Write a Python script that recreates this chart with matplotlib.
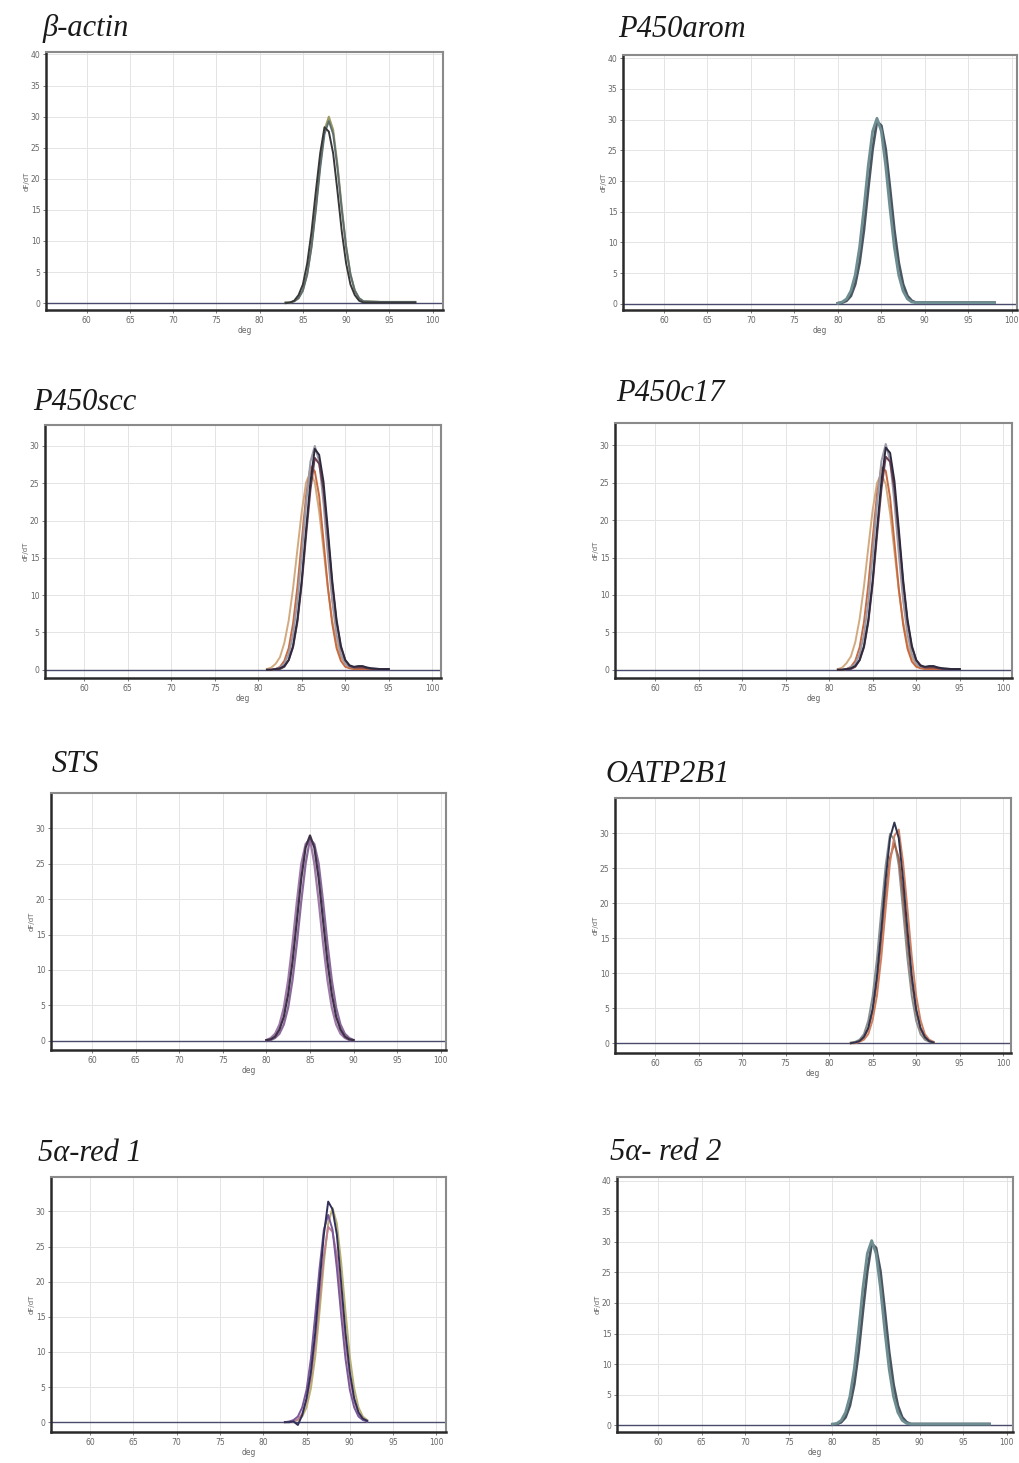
import matplotlib
matplotlib.use('Agg')
import matplotlib.pyplot as plt

# ---------------- data (dF/dT vs deg) ----------------
GENES = ['β-actin', 'P450arom', 'P450scc', 'P450c17',
         'STS', 'OATP2B1', '5α-red 1', '5α- red 2']

# beta-actin
T_ACTIN = [83.0, 83.5, 84.0, 84.5, 85.0, 85.5, 86.0, 86.5, 87.0, 87.5, 88.0,
           88.5, 89.0, 89.5, 90.0, 90.5, 91.0, 91.5, 92.0, 94.0, 96.0, 98.0]
ACTIN_A = [0.1, 0.1, 0.3, 0.8, 2.1, 4.7, 9.2, 15.4, 22.3, 27.9, 30.0,
           27.9, 22.3, 15.4, 9.2, 4.7, 2.1, 0.8, 0.3, 0.2, 0.2, 0.2]
ACTIN_B = [0.0, 0.1, 0.4, 1.3, 3.0, 6.4, 11.5, 18.0, 24.1, 28.3, 27.6,
           24.1, 18.0, 11.5, 6.4, 3.0, 1.3, 0.4, 0.1, 0.1, 0.1, 0.1]
ACTIN_C = [0.1, 0.1, 0.3, 0.8, 2.0, 4.6, 9.0, 15.0, 21.7, 27.2, 29.3,
           27.2, 21.7, 15.0, 9.0, 4.6, 2.0, 0.8, 0.3, 0.2, 0.2, 0.2]

# P450arom
T_AROM = [80.0, 80.5, 81.0, 81.5, 82.0, 82.5, 83.0, 83.5, 84.0, 84.5, 85.0,
          85.5, 86.0, 86.5, 87.0, 87.5, 88.0, 88.5, 89.0, 91.0, 94.0, 98.0]
AROM_A = [0.1, 0.3, 0.8, 2.1, 4.7, 9.2, 15.5, 22.5, 28.1, 30.2, 28.1,
          22.5, 15.5, 9.2, 4.7, 2.1, 0.8, 0.3, 0.2, 0.2, 0.2, 0.2]
AROM_B = [0.1, 0.2, 0.5, 1.3, 3.2, 6.7, 12.0, 18.8, 25.2, 29.7, 29.0,
          25.2, 18.8, 12.0, 6.7, 3.2, 1.3, 0.5, 0.2, 0.2, 0.2, 0.2]

# P450scc
T_SCC = [81.0, 81.5, 82.0, 82.5, 83.0, 83.5, 84.0, 84.5, 85.0, 85.5, 86.0,
         86.5, 87.0, 87.5, 88.0, 88.5, 89.0, 89.5, 90.0, 90.5, 91.0, 91.5,
         92.0, 92.5, 93.0, 94.0, 95.0]
SCC_TAN = [0.1, 0.3, 0.8, 1.7, 3.6, 6.6, 10.9, 16.1, 21.2, 25.1, 26.5,
           25.1, 21.2, 16.1, 10.9, 6.6, 3.6, 1.7, 0.8, 0.3, 0.1, 0.1,
           0.1, 0.1, 0.1, 0.1, 0.1]
SCC_RED = [0.0, 0.0, 0.1, 0.4, 1.2, 2.9, 6.2, 11.1, 17.3, 23.3, 27.3,
           26.6, 23.3, 17.3, 11.1, 6.2, 2.9, 1.2, 0.4, 0.2, 0.1, 0.1,
           0.1, 0.1, 0.1, 0.1, 0.1]
SCC_GRAY = [0.0, 0.0, 0.1, 0.3, 0.8, 2.1, 4.7, 9.2, 15.4, 22.3, 27.9,
            30.0, 27.9, 22.3, 15.4, 9.2, 4.7, 2.1, 0.8, 0.4, 0.3, 0.4,
            0.4, 0.3, 0.2, 0.1, 0.1]
SCC_PURPLE = [0.0, 0.0, 0.1, 0.1, 0.4, 1.3, 3.0, 6.4, 11.5, 18.0, 24.1,
              28.4, 27.6, 24.1, 18.0, 11.5, 6.4, 3.0, 1.3, 0.5, 0.3, 0.3,
              0.3, 0.2, 0.1, 0.1, 0.1]
SCC_DARK = [0.0, 0.0, 0.1, 0.2, 0.5, 1.3, 3.2, 6.7, 12.0, 18.8, 25.2,
            29.6, 28.8, 25.2, 18.8, 12.0, 6.7, 3.2, 1.3, 0.6, 0.4, 0.5,
            0.5, 0.3, 0.2, 0.1, 0.1]

# P450c17
T_C17 = [81.0, 81.5, 82.0, 82.5, 83.0, 83.5, 84.0, 84.5, 85.0, 85.5, 86.0,
         86.5, 87.0, 87.5, 88.0, 88.5, 89.0, 89.5, 90.0, 90.5, 91.0, 91.5,
         92.0, 92.5, 93.0, 94.0, 95.0]
C17_TAN = [0.1, 0.3, 0.9, 1.8, 3.7, 6.8, 11.2, 16.4, 21.4, 25.0, 26.2,
           24.8, 20.9, 15.8, 10.6, 6.4, 3.4, 1.6, 0.7, 0.3, 0.1, 0.1,
           0.1, 0.1, 0.1, 0.1, 0.1]
C17_RED = [0.0, 0.0, 0.1, 0.4, 1.2, 3.0, 6.4, 11.4, 17.6, 23.5, 27.1,
           26.6, 23.0, 17.0, 10.8, 6.0, 2.8, 1.1, 0.4, 0.2, 0.1, 0.1,
           0.1, 0.1, 0.1, 0.1, 0.1]
C17_GRAY = [0.0, 0.0, 0.1, 0.3, 0.8, 2.1, 4.7, 9.2, 15.4, 22.3, 27.9,
            30.2, 27.9, 22.3, 15.4, 9.2, 4.7, 2.1, 0.8, 0.4, 0.3, 0.4,
            0.4, 0.3, 0.2, 0.1, 0.1]
C17_PURPLE = [0.0, 0.0, 0.1, 0.1, 0.4, 1.3, 3.0, 6.4, 11.5, 18.0, 24.1,
              28.5, 27.8, 24.1, 18.0, 11.5, 6.4, 3.0, 1.3, 0.5, 0.3, 0.3,
              0.3, 0.2, 0.1, 0.1, 0.1]
C17_DARK = [0.0, 0.0, 0.1, 0.2, 0.5, 1.3, 3.2, 6.7, 12.0, 18.8, 25.2,
            29.7, 29.0, 25.2, 18.8, 12.0, 6.7, 3.2, 1.3, 0.6, 0.4, 0.5,
            0.5, 0.3, 0.2, 0.1, 0.1]

# STS
T_STS = [80.0, 80.5, 81.0, 81.5, 82.0, 82.5, 83.0, 83.5, 84.0, 84.5, 85.0,
         85.5, 86.0, 86.5, 87.0, 87.5, 88.0, 88.5, 89.0, 89.5, 90.0]
STS_A = [0.1, 0.2, 0.6, 1.6, 3.4, 6.6, 11.2, 17.0, 22.9, 27.3, 29.0,
         27.3, 22.9, 17.0, 11.2, 6.6, 3.4, 1.6, 0.6, 0.2, 0.1]
STS_B = [0.1, 0.1, 0.4, 1.0, 2.3, 4.7, 8.6, 13.8, 19.7, 25.0, 28.5,
         27.8, 25.0, 19.7, 13.8, 8.6, 4.7, 2.3, 1.0, 0.4, 0.1]
STS_C = [0.1, 0.4, 1.0, 2.3, 4.7, 8.6, 13.8, 19.7, 25.0, 27.8, 28.5,
         25.0, 19.7, 13.8, 8.6, 4.7, 2.3, 1.0, 0.4, 0.1, 0.1]

# OATP2B1
T_OATP = [82.5, 83.0, 83.5, 84.0, 84.5, 85.0, 85.5, 86.0, 86.5, 87.0,
          87.5, 88.0, 88.5, 89.0, 89.5, 90.0, 90.5, 91.0, 91.5, 92.0]
OATP_NAVY = [0.0, 0.1, 0.3, 0.9, 2.2, 4.9, 9.6, 16.2, 23.4, 29.3,
             31.5, 29.3, 23.4, 16.2, 9.6, 4.9, 2.2, 0.9, 0.3, 0.1]
OATP_GRAY = [0.1, 0.2, 0.5, 1.3, 3.2, 6.7, 12.1, 18.9, 25.4, 29.9,
             29.0, 25.4, 18.9, 12.1, 6.7, 3.2, 1.3, 0.5, 0.2, 0.1]
OATP_RED = [0.0, 0.0, 0.2, 0.5, 1.3, 3.3, 6.8, 12.3, 19.2, 25.8,
            29.6, 30.5, 25.8, 19.2, 12.3, 6.8, 3.3, 1.3, 0.5, 0.2]
OATP_BROWN = [0.0, 0.1, 0.3, 0.8, 2.0, 4.5, 8.7, 14.6, 21.2, 26.5,
              28.5, 26.5, 21.2, 14.6, 8.7, 4.5, 2.0, 0.8, 0.3, 0.1]

# 5a-reductase 1
T_RED1 = [82.5, 83.0, 83.5, 84.0, 84.5, 85.0, 85.5, 86.0, 86.5, 87.0,
          87.5, 88.0, 88.5, 89.0, 89.5, 90.0, 90.5, 91.0, 91.5, 92.0]
RED1_NAVY = [0.0, 0.0, 0.1, -0.4, 1.0, 3.4, 7.1, 12.7, 19.8, 26.7,
             31.4, 30.3, 26.7, 19.8, 12.7, 7.1, 3.4, 1.4, 0.5, 0.2]
RED1_PURPLE = [0.0, 0.1, 0.3, 0.8, 2.1, 4.6, 9.0, 15.2, 21.9, 27.4,
               29.5, 27.4, 21.9, 15.2, 9.0, 4.6, 2.1, 0.8, 0.3, 0.1]
RED1_OLIVE = [0.0, 0.0, 0.1, 0.3, 0.8, 2.1, 4.8, 9.3, 15.7, 22.7,
              28.3, 30.5, 28.3, 22.7, 15.7, 9.3, 4.8, 2.1, 0.8, 0.3]
RED1_PINK = [0.0, 0.0, 0.1, 0.4, 1.2, 3.0, 6.3, 11.3, 17.6, 23.7,
             27.8, 27.1, 23.7, 17.6, 11.3, 6.3, 3.0, 1.2, 0.4, 0.1]

# 5a-reductase 2
T_RED2 = [80.0, 80.5, 81.0, 81.5, 82.0, 82.5, 83.0, 83.5, 84.0, 84.5, 85.0,
          85.5, 86.0, 86.5, 87.0, 87.5, 88.0, 88.5, 89.0, 91.0, 94.0, 98.0]
RED2_A = [0.2, 0.3, 0.8, 2.1, 4.7, 9.2, 15.5, 22.5, 28.1, 30.2, 28.1,
          22.5, 15.5, 9.2, 4.7, 2.1, 0.8, 0.3, 0.2, 0.2, 0.2, 0.2]
RED2_B = [0.1, 0.2, 0.5, 1.3, 3.2, 6.7, 12.0, 18.8, 25.2, 29.7, 29.0,
          25.2, 18.8, 12.0, 6.7, 3.2, 1.3, 0.5, 0.2, 0.2, 0.2, 0.2]

# ---------------- layout ----------------
W, H = 1019, 1463
fig = plt.figure(figsize=(W / 100, H / 100), dpi=100)
fig.patch.set_facecolor('white')

TITLE_FONT = ['Liberation Serif', 'DejaVu Serif']
BASE_COLOR = '#4a4a6e'

def px_axes(l, t, r, b):
    return fig.add_axes([l / W, 1 - b / H, (r - l) / W, (b - t) / H])

def draw_panel(box, title, title_xy, xlim, ylim, ymax_tick, curves, lw=1.4):
    ax = px_axes(*box)
    ax.set_xlim(*xlim)
    ax.set_ylim(*ylim)
    ax.set_xticks(range(60, 101, 5))
    ax.set_yticks(range(0, ymax_tick + 1, 5))
    ax.grid(True, color='#e4e4e4', lw=0.7)
    ax.set_axisbelow(True)
    ax.axhline(0, color=BASE_COLOR, lw=1.0, zorder=2)
    for t, y, c in curves:
        ax.plot(t, y, color=c, lw=lw, zorder=3, solid_joinstyle='round')
    for s in ['left', 'bottom']:
        ax.spines[s].set_color('#2a2a2a')
        ax.spines[s].set_linewidth(1.8)
    for s in ['top', 'right']:
        ax.spines[s].set_color('#8a8a8a')
        ax.spines[s].set_linewidth(1.5)
    ax.tick_params(length=2, width=0.6, color='#666666', labelsize=5.5,
                   labelcolor='#666666', pad=2)
    ax.set_xlabel('deg', fontsize=5.5, color='#666666', labelpad=1)
    ax.set_ylabel('dF/dT', fontsize=5, color='#666666', labelpad=1)
    fig.text(title_xy[0] / W, 1 - title_xy[1] / H, title, fontsize=22,
             style='italic', family=TITLE_FONT, color='#1a1a1a', va='baseline')
    return ax

draw_panel((46, 52, 443, 310), GENES[0], (43, 36), (55.3, 101.2), (-1.1, 40.4), 40,
           [(T_ACTIN, ACTIN_A, '#9c9a60'), (T_ACTIN, ACTIN_C, '#5f6f70'),
            (T_ACTIN, ACTIN_B, '#383838')])

draw_panel((623, 55, 1017, 310), GENES[1], (618, 37), (55.3, 100.6), (-1.0, 40.5), 40,
           [(T_AROM, AROM_B, '#4a5560'), (T_AROM, AROM_A, '#6e8e92')], lw=2.0)

draw_panel((45, 425, 441, 678), GENES[2], (33, 410), (55.5, 101.0), (-1.1, 32.8), 30,
           [(T_SCC, SCC_TAN, '#d2aa80'), (T_SCC, SCC_RED, '#c86a40'),
            (T_SCC, SCC_GRAY, '#9a9aa8'), (T_SCC, SCC_PURPLE, '#6a4050'),
            (T_SCC, SCC_DARK, '#2e2a3e')])

draw_panel((615, 423, 1012, 678), GENES[3], (616, 401), (55.4, 101.0), (-1.1, 33.0), 30,
           [(T_C17, C17_TAN, '#d2aa80'), (T_C17, C17_RED, '#c86a40'),
            (T_C17, C17_GRAY, '#9a9aa8'), (T_C17, C17_PURPLE, '#6a4050'),
            (T_C17, C17_DARK, '#2e2a3e')])

draw_panel((51, 793, 446, 1050), GENES[4], (52, 772), (55.3, 100.6), (-1.3, 35.0), 30,
           [(T_STS, STS_C, '#a07aa8'), (T_STS, STS_B, '#8a6a9a'),
            (T_STS, STS_A, '#3e3248')], lw=1.6)

draw_panel((615, 798, 1011, 1053), GENES[5], (605, 782), (55.4, 100.9), (-1.4, 35.0), 30,
           [(T_OATP, OATP_GRAY, '#8a9090'), (T_OATP, OATP_BROWN, '#a06048'),
            (T_OATP, OATP_RED, '#d08060'), (T_OATP, OATP_NAVY, '#2e3450')])

draw_panel((51, 1177, 446, 1432), GENES[6], (38, 1161), (55.5, 101.1), (-1.4, 34.9), 30,
           [(T_RED1, RED1_OLIVE, '#b8b070'), (T_RED1, RED1_PINK, '#c08090'),
            (T_RED1, RED1_PURPLE, '#7a5a9a'), (T_RED1, RED1_NAVY, '#30305a')])

draw_panel((617, 1177, 1013, 1432), GENES[7], (610, 1160), (55.3, 100.7), (-1.1, 40.6), 40,
           [(T_RED2, RED2_B, '#4a5560'), (T_RED2, RED2_A, '#6e8e92')], lw=2.0)

fig.savefig('out.png', dpi=100, facecolor='white')
